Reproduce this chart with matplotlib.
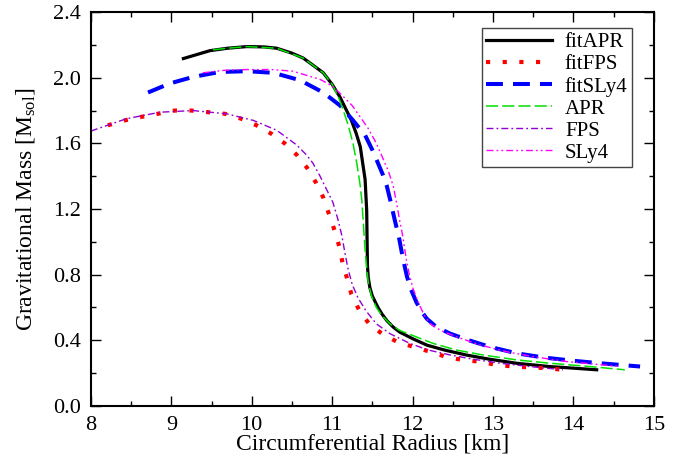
import matplotlib
matplotlib.use("Agg")
import matplotlib.pyplot as plt
from matplotlib.ticker import MultipleLocator, FormatStrFormatter

plt.rcParams['font.family'] = ['Liberation Serif', 'DejaVu Serif']
plt.rcParams['mathtext.fontset'] = 'custom'
plt.rcParams['mathtext.rm'] = 'Liberation Serif'
plt.rcParams['mathtext.it'] = 'Liberation Serif:italic'

# mass-radius curves
r_fitapr = [9.15, 9.48, 9.7, 9.94, 10.15, 10.31, 10.5, 10.64, 10.78, 10.89, 11.0, 11.10,
            11.17, 11.24, 11.30, 11.35, 11.38, 11.41, 11.43, 11.435, 11.44, 11.45, 11.47,
            11.50, 11.57, 11.62, 11.68, 11.76, 11.84, 12.0, 12.18, 12.4, 12.67, 12.95,
            13.29, 13.7, 14.0, 14.29]
m_fitapr = [2.117, 2.165, 2.18, 2.19, 2.188, 2.18, 2.15, 2.12, 2.07, 2.03, 1.96, 1.88,
            1.81, 1.74, 1.66, 1.58, 1.48, 1.38, 1.19, 1.0, 0.85, 0.78, 0.72,
            0.67, 0.60, 0.56, 0.52, 0.48, 0.45, 0.41, 0.37, 0.34, 0.31, 0.285,
            0.26, 0.24, 0.23, 0.22]

r_fitfps = [8.21, 8.42, 8.61, 8.83, 9.04, 9.25, 9.46, 9.67, 9.87, 10.06, 10.24, 10.41,
            10.56, 10.69, 10.80, 10.89, 10.96, 11.03, 11.09, 11.13, 11.19, 11.24, 11.34,
            11.46, 11.62, 11.81, 12.01, 12.22, 12.41, 12.62, 12.83, 13.04, 13.25, 13.45,
            13.67, 13.87]
m_fitfps = [1.71, 1.74, 1.76, 1.78, 1.80, 1.80, 1.79, 1.78, 1.75, 1.71, 1.66, 1.60,
            1.53, 1.45, 1.36, 1.27, 1.17, 1.07, 0.97, 0.87, 0.77, 0.68, 0.58,
            0.50, 0.44, 0.39, 0.36, 0.33, 0.30, 0.28, 0.27, 0.25, 0.24, 0.235,
            0.23, 0.22]

r_fitsly4 = [8.71, 8.98, 9.27, 9.60, 9.94, 10.27, 10.60, 10.89, 11.10, 11.26, 11.41,
             11.50, 11.57, 11.63, 11.68, 11.73, 11.78, 11.83, 11.88, 11.93, 11.98,
             12.05, 12.12, 12.18, 12.30, 12.47, 12.7, 12.96, 13.3, 13.63, 14.0, 14.33, 14.83]
m_fitsly4 = [1.91, 1.965, 2.005, 2.035, 2.04, 2.03, 1.985, 1.91, 1.83, 1.74, 1.65,
             1.56, 1.48, 1.41, 1.34, 1.24, 1.13, 1.03, 0.90, 0.79, 0.71,
             0.63, 0.57, 0.53, 0.48, 0.44, 0.40, 0.36, 0.32, 0.295, 0.275, 0.26, 0.24]

r_apr = [9.52, 9.7, 9.94, 10.31, 10.64, 10.89, 11.0, 11.08, 11.14, 11.20, 11.26, 11.31,
         11.35, 11.37, 11.39, 11.41, 11.43, 11.45, 11.49, 11.55, 11.62, 11.72, 11.84,
         12.05, 12.26, 12.55, 12.88, 13.3, 13.71, 14.2, 14.64]
m_apr = [2.17, 2.18, 2.19, 2.18, 2.12, 2.03, 1.96, 1.88, 1.80, 1.71, 1.60, 1.47,
         1.34, 1.25, 1.10, 0.95, 0.84, 0.75, 0.67, 0.60, 0.55, 0.50, 0.46,
         0.42, 0.38, 0.34, 0.31, 0.28, 0.26, 0.24, 0.22]

r_fps = [8.0, 8.44, 8.86, 9.27, 9.69, 10.02, 10.31, 10.56, 10.68, 10.76, 10.85, 10.93,
         11.01, 11.07, 11.12, 11.16, 11.20, 11.25, 11.32, 11.42, 11.55, 11.72, 11.97,
         12.2, 12.47, 12.75, 13.09, 13.45, 13.87]
m_fps = [1.675, 1.75, 1.79, 1.80, 1.78, 1.74, 1.68, 1.59, 1.53, 1.48, 1.40, 1.32,
         1.24, 1.14, 1.04, 0.93, 0.83, 0.74, 0.66, 0.58, 0.50, 0.44, 0.38,
         0.34, 0.31, 0.285, 0.26, 0.24, 0.22]

r_sly4 = [9.39, 9.65, 9.94, 10.25, 10.51, 10.85, 11.0, 11.14, 11.25, 11.35, 11.45, 11.55,
          11.63, 11.70, 11.76, 11.80, 11.84, 11.88, 11.92, 11.96, 12.01, 12.08, 12.15,
          12.22, 12.35, 12.55, 12.85, 13.17, 13.5, 13.92, 14.25, 14.58]
m_sly4 = [2.03, 2.045, 2.05, 2.05, 2.04, 1.99, 1.95, 1.885, 1.83, 1.76, 1.69, 1.60,
          1.51, 1.43, 1.34, 1.24, 1.13, 1.03, 0.90, 0.80, 0.71, 0.62, 0.55,
          0.50, 0.46, 0.42, 0.37, 0.33, 0.30, 0.27, 0.255, 0.24]

fig = plt.figure(figsize=(6.94, 4.66), dpi=100)
ax = fig.add_axes([0.131, 0.129, 0.811, 0.845])

ax.plot(r_fitapr, m_fitapr, color='black', lw=2.3, label='fitAPR')
ax.plot(r_fitfps, m_fitfps, color='red', lw=3, linestyle=(0, (1, 3)), label='fitFPS')
ax.plot(r_fitsly4, m_fitsly4, color='blue', lw=2.9, linestyle=(0, (4.2, 2.5)), label='fitSLy4')
ax.plot(r_apr, m_apr, color='#00e000', lw=1.1, linestyle=(0, (8, 2.6)), label='APR')
ax.plot(r_fps, m_fps, color='#9400d3', lw=1.0, linestyle=(0, (5, 2.2, 1.3, 2.2)), label='FPS')
ax.plot(r_sly4, m_sly4, color='magenta', lw=1.0,
        linestyle=(0, (5, 2.2, 1.3, 2.2, 1.3, 2.2)), label='SLy4')

ax.set_xlim(8, 15)
ax.set_ylim(0, 2.4)
ax.xaxis.set_major_locator(MultipleLocator(1))
ax.xaxis.set_minor_locator(MultipleLocator(0.5))
ax.yaxis.set_major_locator(MultipleLocator(0.4))
ax.yaxis.set_minor_locator(MultipleLocator(0.2))
ax.yaxis.set_major_formatter(FormatStrFormatter('%.1f'))
ax.tick_params(which='both', direction='in', top=True, right=True, labelsize=16, width=1, pad=7)
ax.tick_params(which='major', length=7)
ax.tick_params(which='minor', length=3.5)
for s in ax.spines.values():
    s.set_linewidth(1.5)

ax.set_xlabel('Circumferential Radius [km]', fontsize=17, labelpad=-1)
ax.set_ylabel(r'Gravitational Mass [M$_{\mathrm{sol}}$]', fontsize=17, labelpad=12)

leg = ax.legend(loc='upper right', bbox_to_anchor=(0.961, 0.959), borderaxespad=0,
                fontsize=15, handlelength=3.2, handletextpad=0.6, labelspacing=0.12,
                borderpad=0.2, fancybox=False, framealpha=1)
leg.get_frame().set_edgecolor('#444444')
leg.get_frame().set_linewidth(1)

fig.savefig('out.png', dpi=100)
